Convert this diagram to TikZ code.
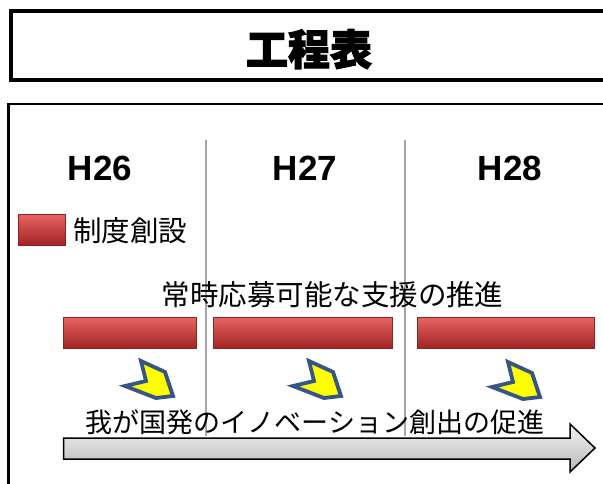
\documentclass[tikz,border=0pt]{standalone}
\usepackage{fontspec}
\setmainfont{Noto Sans CJK JP}
\newfontfamily\titlefont{Noto Sans CJK JP}[BoldFeatures={FakeBold=2.5}]
\newfontfamily\yearfont{Liberation Sans}
\definecolor{barTop}{RGB}{232,98,98}
\definecolor{barMid}{RGB}{205,62,62}
\definecolor{barBottom}{RGB}{160,36,36}
\definecolor{barEdge}{RGB}{140,35,35}
\definecolor{markBlue}{RGB}{55,85,135}
\definecolor{markYellow}{RGB}{255,255,0}

\begin{document}
\begin{tikzpicture}[x = 1pt, y = -1pt]
	\tikzstyle{titleStyle} = [font = \titlefont\bfseries\fontsize{42}{42}\selectfont, inner sep = 0pt, anchor = base]
	\tikzstyle{yearStyle} = [font = \yearfont\bfseries\fontsize{35}{35}\selectfont, inner sep = 0pt, anchor = base]
	\tikzstyle{labelStyle} = [font = \fontsize{28.5}{28.5}\selectfont, inner sep = 0pt, anchor = base]
	\tikzstyle{barStyle} = [rectangle, draw = barEdge, line width = 0.8pt, top color = barTop, middle color = barMid, bottom color = barBottom, inner sep = 0pt, anchor = north west, minimum height = 31pt]
	\tikzstyle{markStyle} = [draw = markBlue, line width = 3.8pt, line join = miter, fill = markYellow]
	\tikzstyle{divStyle} = [draw = black!35, line width = 1.5pt]
	\useasboundingbox (0,0) rectangle (603,483);
	\clip (0,0) rectangle (603,483);
	% frames
	\draw[line width = 4pt] (620,10.5) -- (10.5,10.5) -- (10.5,80) -- (620,80);
	\draw[line width = 2.5pt] (620,104) -- (8.5,104) -- (8.5,500);
	\node[titleStyle] (title) at (309,65) {工程表};
	% year columns
	\coordinate (d1t) at (206,140);
	\coordinate (d1b) at (206,436);
	\coordinate (d2t) at (405,140);
	\coordinate (d2b) at (405,436);
	\draw[divStyle] (d1t) -- (d1b);
	\draw[divStyle] (d2t) -- (d2b);
	\node[yearStyle] (h26) at (100,180) {H26};
	\node[yearStyle] (h27) at (305,180) {H27};
	\node[yearStyle] (h28) at (510,180) {H28};
	% legend
	\node[barStyle, minimum width = 47pt] (legend) at (18,214) {};
	\node[labelStyle, anchor = base west] (legendText) at (73,241) {制度創設};
	% bars
	\node[labelStyle] (support) at (332.5,305) {常時応募可能な支援の推進};
	\node[barStyle, minimum width = 133pt] (bar1) at (63,317) {};
	\node[barStyle, minimum width = 179pt] (bar2) at (213,317) {};
	\node[barStyle, minimum width = 177pt] (bar3) at (417,317) {};
	% marks
	\draw[markStyle, shift = {(149,381)}] (-8,-20) -- (16,-9) -- (24,15) -- (7,17) -- (-24,5) -- (-3,0) -- cycle;
	\draw[markStyle, shift = {(317,381)}] (-8,-20) -- (16,-9) -- (24,15) -- (7,17) -- (-24,5) -- (-3,0) -- cycle;
	\draw[markStyle, shift = {(516,382)}] (-8,-20) -- (16,-9) -- (24,15) -- (7,17) -- (-24,5) -- (-3,0) -- cycle;
	% arrow
	\draw[line width = 1.5pt, top color = black!5, bottom color = black!28] (63.5,438) -- (570,438) -- (570,424) -- (595,448) -- (570,472) -- (570,459) -- (63.5,459) -- cycle;
	\node[labelStyle, font = \fontsize{27}{27}\selectfont] (promote) at (315,432) {我が国発のイノベーション創出の促進};
\end{tikzpicture}
\end{document}
